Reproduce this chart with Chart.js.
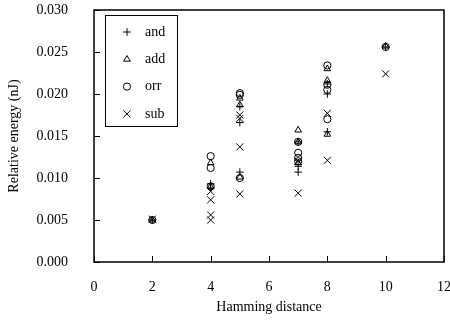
<!DOCTYPE html>
<html>
<head>
<meta charset="utf-8">
<script src="https://cdn.jsdelivr.net/npm/chart.js@4/dist/chart.umd.min.js"></script>
<style>
  body { margin: 0; background: #fff; }
  canvas { display: block; }
</style>
</head>
<body>
<canvas id="chart" width="450" height="320"></canvas>
<script>
// Data: [hamming distance, relative energy nJ]
const andPoints = [[2, 0.0050], [4, 0.0093], [4, 0.0088], [5, 0.0185], [5, 0.0166], [5, 0.0107],
  [7, 0.0143], [7, 0.0114], [7, 0.0107], [8, 0.0212], [8, 0.0200], [8, 0.0155], [10, 0.0256]];
const addPoints = [[2, 0.0050], [4, 0.0118], [4, 0.0090], [5, 0.0195], [5, 0.0187], [5, 0.0101],
  [7, 0.0157], [7, 0.0143], [7, 0.0118], [8, 0.0230], [8, 0.0216], [8, 0.0152], [10, 0.0257]];
const orrPoints = [[2, 0.0050], [4, 0.0126], [4, 0.0112], [4, 0.0090], [5, 0.0201], [5, 0.0199], [5, 0.0100],
  [7, 0.0143], [7, 0.0130], [7, 0.0124], [7, 0.0120], [8, 0.0234], [8, 0.0211], [8, 0.0205], [8, 0.0170], [10, 0.0256]];
const subPoints = [[2, 0.0051], [4, 0.0084], [4, 0.0074], [4, 0.0056], [4, 0.0050], [5, 0.0175], [5, 0.0171],
  [5, 0.0137], [5, 0.0081], [7, 0.0120], [7, 0.0082], [8, 0.0177], [8, 0.0121], [10, 0.0224]];

const seriesLabels = ['and', 'add', 'orr', 'sub'];
const seriesStyles = ['cross', 'triangle', 'circle', 'crossRot'];
const seriesRadius = [3.8, 3.8, 3.6, 5];
const yTicks = [0, 0.005, 0.010, 0.015, 0.020, 0.025, 0.030];
const xTicks = [0, 2, 4, 6, 8, 10, 12];

const serif = 'Liberation Serif, Times New Roman, serif';

function toXY(points) {
  return points.map(p => ({ x: p[0], y: p[1] }));
}

// Frame round the plot and short inward tick marks
const framePlugin = {
  id: 'frame',
  afterDraw(chart) {
    const { ctx, chartArea: a, scales } = chart;
    ctx.save();
    ctx.strokeStyle = '#000';
    ctx.lineWidth = 1.5;
    ctx.strokeRect(a.left, a.top, a.right - a.left, a.bottom - a.top);
    ctx.lineWidth = 1;
    ctx.beginPath();
    yTicks.forEach(v => {
      const py = Math.round(scales.y.getPixelForValue(v)) + 0.5;
      ctx.moveTo(a.left, py);
      ctx.lineTo(a.left + 6, py);
    });
    xTicks.forEach(v => {
      const px = Math.round(scales.x.getPixelForValue(v)) + 0.5;
      ctx.moveTo(px, a.bottom);
      ctx.lineTo(px, a.bottom - 6);
    });
    ctx.stroke();
    ctx.restore();
  }
};

// Boxed legend in the upper left of the plot
const legendPlugin = {
  id: 'boxLegend',
  afterDraw(chart) {
    const { ctx } = chart;
    ctx.save();
    ctx.strokeStyle = '#000';
    ctx.lineWidth = 1;
    ctx.strokeRect(105.5, 15.5, 72, 111);
    ctx.font = '14px ' + serif;
    ctx.textBaseline = 'middle';
    chart.data.datasets.forEach((ds, i) => {
      const y = 32 + i * 27.3;
      ctx.strokeStyle = '#000';
      ctx.fillStyle = 'rgba(0,0,0,0)';
      Chart.helpers.drawPoint(ctx, {
        pointStyle: ds.pointStyle, radius: ds.pointRadius, rotation: 0, borderWidth: 1
      }, 127, y);
      ctx.fillStyle = '#000';
      ctx.fillText(ds.label, 145, y);
    });
    ctx.restore();
  }
};

const datasets = [andPoints, addPoints, orrPoints, subPoints].map((pts, i) => ({
  label: seriesLabels[i],
  data: toXY(pts),
  pointStyle: seriesStyles[i],
  pointRadius: seriesRadius[i],
  pointBorderWidth: 1,
  borderColor: '#000',
  backgroundColor: 'rgba(0,0,0,0)',
  showLine: false
}));

new Chart(document.getElementById('chart'), {
  type: 'scatter',
  data: { datasets },
  options: {
    responsive: false,
    animation: false,
    layout: { padding: { top: 10, right: 6, left: 0, bottom: 0 }, autoPadding: false },
    plugins: {
      legend: { display: false },
      tooltip: { enabled: false }
    },
    scales: {
      x: {
        type: 'linear',
        min: 0,
        max: 12,
        afterFit: s => { s.height = 58; s.paddingLeft = 0; s.paddingRight = 0; },
        afterBuildTicks: s => { s.ticks = xTicks.map(v => ({ value: v })); },
        grid: { display: false, drawTicks: false },
        border: { display: false },
        ticks: { padding: 17, maxRotation: 0, color: '#000', font: { family: serif, size: 14 } },
        title: {
          display: true, text: 'Hamming distance', color: '#000',
          font: { family: serif, size: 14 }, padding: { top: 0, bottom: 4 }
        }
      },
      y: {
        type: 'linear',
        min: 0,
        max: 0.03,
        afterFit: s => { s.width = 94; s.paddingTop = 0; s.paddingBottom = 0; },
        afterBuildTicks: s => { s.ticks = yTicks.map(v => ({ value: v })); },
        grid: { display: false, drawTicks: false },
        border: { display: false },
        ticks: {
          padding: 26, color: '#000', font: { family: serif, size: 14 },
          callback: v => v.toFixed(3)
        },
        title: {
          display: true, text: 'Relative energy (nJ)', color: '#000',
          font: { family: serif, size: 14 }, padding: { top: 6, bottom: 0 }
        }
      }
    }
  },
  plugins: [framePlugin, legendPlugin]
});
</script>
</body>
</html>
